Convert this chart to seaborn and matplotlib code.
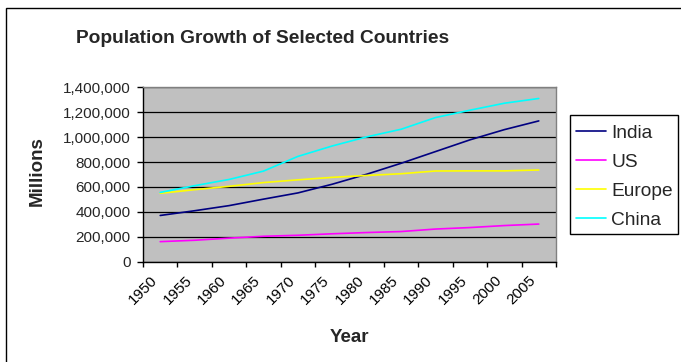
import matplotlib
matplotlib.use("Agg")
import matplotlib.pyplot as plt
from matplotlib.patches import Rectangle
from matplotlib.ticker import FuncFormatter, FixedLocator
import matplotlib.transforms as mtransforms
import seaborn as sns
import pandas as pd
import numpy as np

years = [1950, 1955, 1960, 1965, 1970, 1975, 1980, 1985, 1990, 1995, 2000, 2005]
india = [371000, 409000, 450000, 502000, 552000, 622000, 702000, 790000, 884000, 978000, 1060000, 1130000]
us = [161000, 172000, 189000, 204000, 212000, 224000, 234000, 242000, 262000, 274000, 290000, 302000]
europe = [549000, 578000, 605000, 635000, 657000, 677000, 692000, 706000, 728000, 729000, 729000, 736000]
china = [556000, 610000, 660000, 727000, 845000, 929000, 1002000, 1063000, 1157000, 1216000, 1272000, 1310000]
series_names = ["India", "US", "Europe", "China"]
series_colors = ["#000080", "#FF00FF", "#FFFF00", "#00FFFF"]

rows = []
for name, vals in zip(series_names, [india, us, europe, china]):
    for i, (yr, v) in enumerate(zip(years, vals)):
        rows.append({"pos": i, "Year": yr, "Millions": v, "Country": name})
df = pd.DataFrame(rows)

sns.set_theme(style="white")
plt.rcParams["font.family"] = ["Liberation Sans", "DejaVu Sans"]

W, H = 681, 362
fig = plt.figure(figsize=(W / 100, H / 100), dpi=100)
ax = fig.add_axes([0.21, 0.2771, 0.6064, 0.4818])
ax.set_facecolor("#C0C0C0")

sns.lineplot(data=df, x="pos", y="Millions", hue="Country", hue_order=series_names,
             palette=series_colors, linewidth=1.2, ax=ax, legend=True)

ax.set_xlim(-0.5, len(years) - 0.5)
ax.set_ylim(0, 1400000)
ax.set_yticks(np.arange(0, 1400001, 200000))
ax.yaxis.set_major_formatter(FuncFormatter(lambda v, p: f"{int(v):,}"))
ax.yaxis.grid(True, color="black", linewidth=0.9)
ax.set_axisbelow(True)

# tick marks sit between categories; labels sit under category centres
ax.set_xticks(range(len(years)))
ax.set_xticklabels([str(y) for y in years], rotation=45, ha="right", va="top")
shift = mtransforms.ScaledTranslation(-8 / 100, 0, fig.dpi_scale_trans)
for lbl in ax.get_xticklabels():
    lbl.set_transform(lbl.get_transform() + shift)
ax.xaxis.set_minor_locator(FixedLocator(np.arange(-0.5, len(years), 1.0)))
ax.tick_params(axis="x", which="major", length=0, pad=8.5, labelsize=11, colors="black")
ax.tick_params(axis="x", which="minor", length=3.8, width=1, color="black", direction="out", bottom=True)
ax.tick_params(axis="y", which="major", length=4.3, width=1, color="black", direction="out",
               left=True, labelsize=11, pad=4.5)

for side in ["top", "right"]:
    ax.spines[side].set_color("#808080")
    ax.spines[side].set_linewidth(1)
for side in ["left", "bottom"]:
    ax.spines[side].set_color("black")
    ax.spines[side].set_linewidth(1)

ax.set_xlabel("Year", fontsize=13.5, fontweight="bold")
ax.set_ylabel("Millions", fontsize=13.5, fontweight="bold")
ax.xaxis.set_label_coords(0.5, -0.437)
ax.xaxis.label.set_va("center")
ax.yaxis.set_label_coords(-0.257, 0.52)
ax.yaxis.label.set_va("center")

fig.text(0.3855, 0.893, "Population Growth of Selected Countries", ha="center", va="center",
         fontsize=13.8, fontweight="bold")

# legend entries, with the box drawn separately for tight side padding
handles, labels = ax.get_legend_handles_labels()
ax.legend(handles, labels, loc="upper left", bbox_to_anchor=(576 / W, 1 - 124.5 / H),
          bbox_transform=fig.transFigure, borderaxespad=0, frameon=False,
          fontsize=13.8, handlelength=1.58, handletextpad=0.26,
          labelspacing=0.6, borderpad=0)
fig.patches.append(Rectangle((569.5 / W, 1 - 233.5 / H), 108 / W, 119 / H,
                             transform=fig.transFigure, fill=False,
                             edgecolor="black", linewidth=1))

# outer chart border
fig.patches.append(Rectangle((5.5 / W, -0.1), 1.2, 1 - 8.5 / H + 0.1,
                             transform=fig.transFigure, fill=False,
                             edgecolor="black", linewidth=1, clip_on=False))

fig.savefig("out.png", dpi=100)
